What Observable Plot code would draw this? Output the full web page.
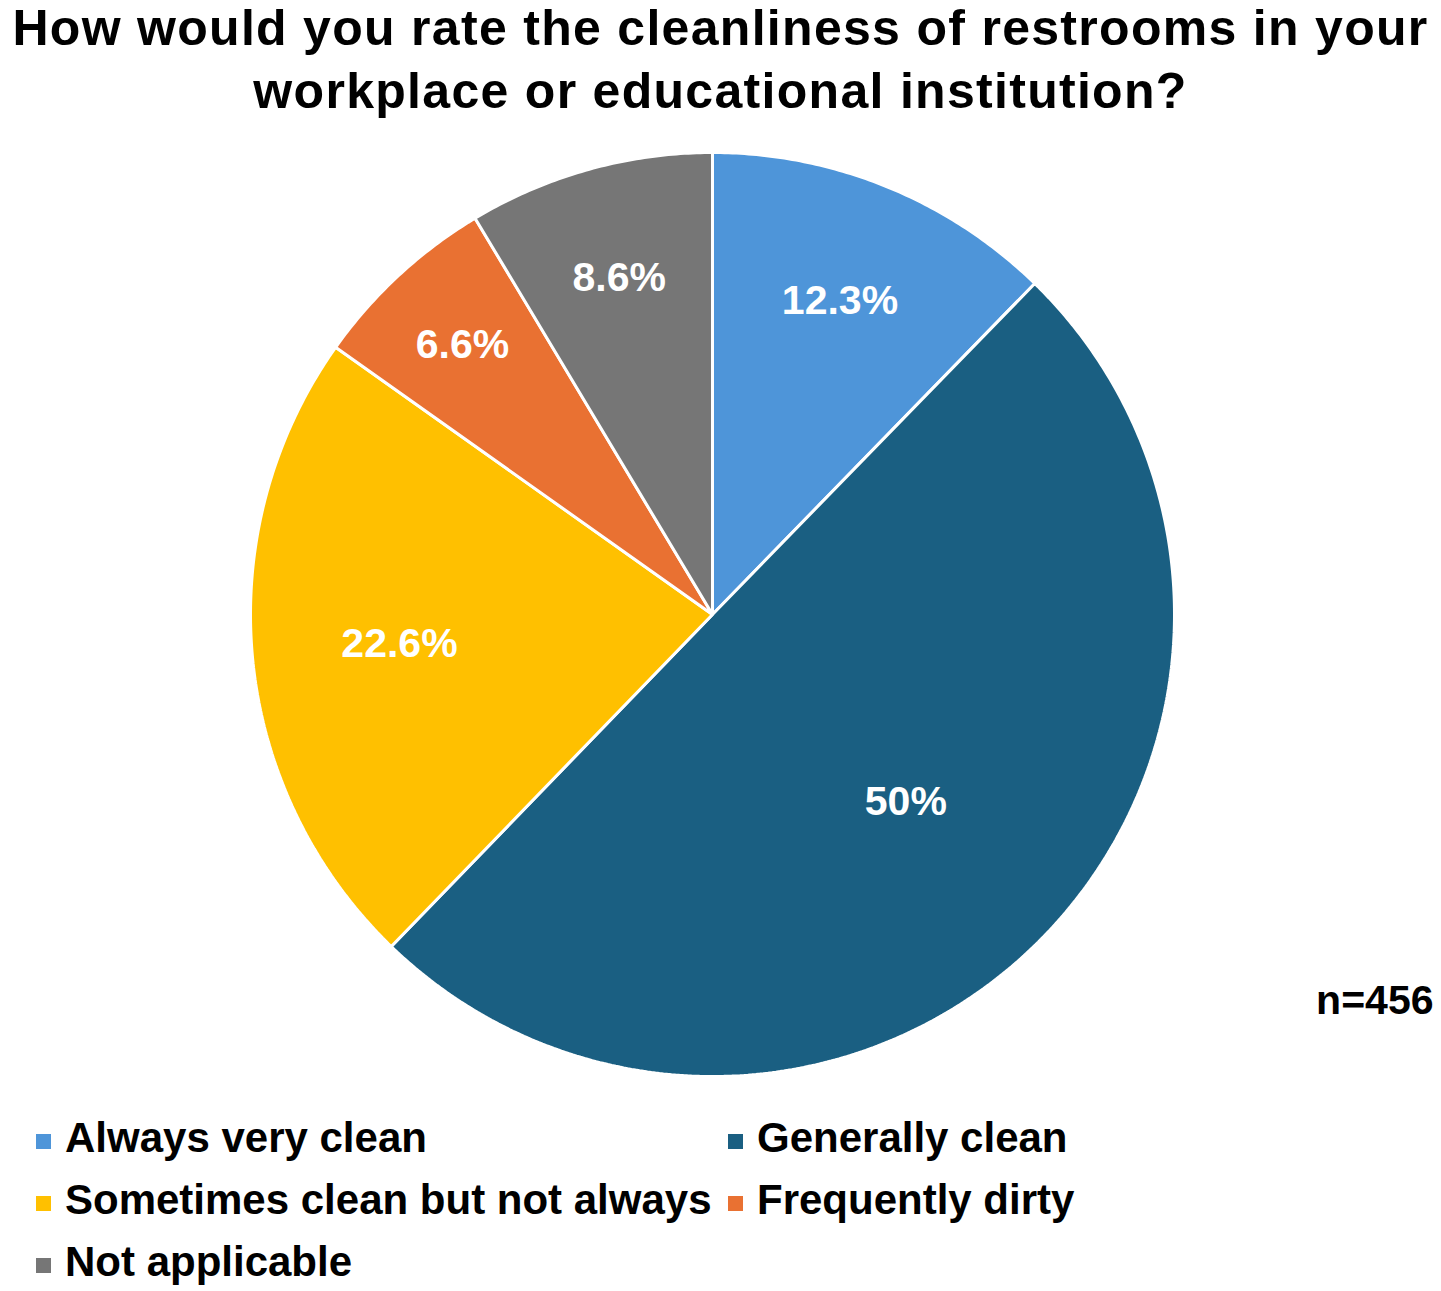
<!DOCTYPE html>
<html>
<head>
<meta charset="utf-8">
<script src="https://cdn.jsdelivr.net/npm/d3@7"></script>
<script src="https://cdn.jsdelivr.net/npm/@observablehq/plot@0.6"></script>
<style>
  html, body { margin: 0; padding: 0; background: #fff; }
  body { width: 1441px; height: 1291px; position: relative; overflow: hidden;
         font-family: "Liberation Sans", Arial, sans-serif; font-weight: bold; color: #000; }
  #title { position: absolute; left: 0; top: -3px; width: 1441px; text-align: center;
           font-size: 50px; line-height: 63px; letter-spacing: 1.3px; }
  #chart { position: absolute; left: 0; top: 140px; }
  #legend { position: absolute; left: 0; top: 1107px; width: 1441px; }
  .item { position: absolute; font-size: 42px; line-height: 62px; white-space: nowrap; }
  .sw { display: inline-block; width: 15px; height: 15px; margin-right: 14px; vertical-align: 3px; }
</style>
</head>
<body>
<div id="title">How would you rate the cleanliness of restrooms in your<br>workplace or educational institution?</div>
<div id="chart"></div>
<div id="legend"></div>
<script>
const categories = ["Always very clean", "Generally clean", "Sometimes clean but not always", "Frequently dirty", "Not applicable"];
const values = [12.3, 50, 22.6, 6.6, 8.6];
const labels = ["12.3%", "50%", "22.6%", "6.6%", "8.6%"];
const colors = ["#4E95D9", "#1A5F82", "#FFC000", "#E97132", "#767676"];
const note = "n=456";

const total = d3.sum(values);
let acc = 0;
const slices = categories.map((c, i) => {
  const a0 = acc / total * 2 * Math.PI;
  acc += values[i];
  const a1 = acc / total * 2 * Math.PI;
  return {category: c, value: values[i], label: labels[i], a0, a1};
});

// polygon outline points for each slice (unit circle, angle clockwise from top)
const pts = [];
for (const s of slices) {
  pts.push({category: s.category, x: 0, y: 0});
  const n = Math.max(8, Math.ceil((s.a1 - s.a0) / (Math.PI / 360)));
  for (let k = 0; k <= n; k++) {
    const a = s.a0 + (s.a1 - s.a0) * k / n;
    pts.push({category: s.category, x: Math.sin(a), y: Math.cos(a)});
  }
}

// label positions (Excel-like "best fit": larger slices place labels nearer the centre,
// narrow slices push the label outward so it fits)
const labelPts = slices.map(s => {
  const m = (s.a0 + s.a1) / 2;
  const share = s.value / total;
  const r = Math.max(0.88 - 0.42 * Math.sqrt(share), 0.33 / (s.a1 - s.a0));
  return {label: s.label, x: r * Math.sin(m), y: r * Math.cos(m)};
});

const chart = Plot.plot({
  width: 1441,
  height: 950,
  marginLeft: 250,
  marginRight: 267,
  marginTop: 12,
  marginBottom: 14,
  x: {domain: [-1, 1], axis: null},
  y: {domain: [-1, 1], axis: null},
  color: {domain: categories, range: colors},
  style: {fontFamily: "'Liberation Sans', Arial, sans-serif", background: "transparent"},
  marks: [
    Plot.line(pts, {x: "x", y: "y", z: "category", fill: "category", stroke: "white", strokeWidth: 3, curve: "linear-closed", strokeLinejoin: "miter"}),
    Plot.text(labelPts, {x: "x", y: "y", text: "label", fill: "white", fontSize: 41, fontWeight: "bold"}),
    Plot.text([note], {frameAnchor: "right", text: d => d, dx: 259, dy: 386, textAnchor: "end", fill: "black", fontSize: 41, fontWeight: "bold"})
  ]
});
document.getElementById("chart").appendChild(chart);

// legend
const legend = document.getElementById("legend");
const pos = [[36, 0], [728, 0], [36, 62], [728, 62], [36, 124]];
categories.forEach((c, i) => {
  const el = document.createElement("div");
  el.className = "item";
  el.style.left = pos[i][0] + "px";
  el.style.top = pos[i][1] + "px";
  el.innerHTML = `<span class="sw" style="background:${colors[i]}"></span>${c}`;
  legend.appendChild(el);
});
</script>
</body>
</html>
